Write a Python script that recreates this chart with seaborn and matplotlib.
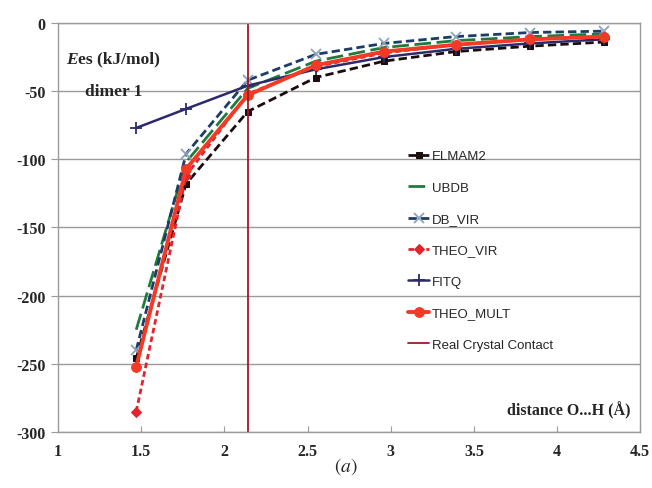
import numpy as np
import pandas as pd
import matplotlib
matplotlib.use('Agg')
import matplotlib.pyplot as plt
import seaborn as sns

# data
distance = [1.47, 1.77, 2.14, 2.55, 2.96, 3.39, 3.84, 4.28]
elmam2 = [-246, -118, -65, -40, -28, -21, -17, -14]
ubdb = [-225, -102, -48, -28, -18, -13, -10, -8]
db_vir = [-240, -96, -42, -23, -15, -10, -7, -6]
theo_vir = [-285, -112, -52, -32, -22, -16, -12, -10]
fitq = [-77, -63, -46, -34, -25, -19, -15, -12]
theo_mult = [-252, -107, -53, -31, -21, -16, -12, -10]
contact = 2.14

sns.set_style('white')
plt.rcParams['font.family'] = ['Liberation Serif', 'DejaVu Sans']
plt.rcParams['mathtext.fontset'] = 'stix'
plt.rcParams['axes.unicode_minus'] = False

# long table for seaborn
series = {'ELMAM2': elmam2, 'UBDB': ubdb, 'DB_VIR': db_vir,
          'THEO_VIR': theo_vir, 'FITQ': fitq, 'THEO_MULT': theo_mult}
df = pd.concat([pd.DataFrame({'d': distance, 'E': v, 'model': k}) for k, v in series.items()])

styles = {
    'ELMAM2': dict(color='#1c0c0e', ls=(0, (3, 1.5)), lw=2, marker='s', ms=5, mfc='#1c0c0e', mec='#1c0c0e'),
    'UBDB': dict(color='#1f7a3c', ls=(0, (6, 2)), lw=2, marker=None),
    'DB_VIR': dict(color='#1d3c68', ls=(0, (3, 1.5)), lw=2, marker='x', ms=7, mec='#8aa3bb', mew=1.3),
    'THEO_VIR': dict(color='#e3232d', ls=(0, (2, 1.2)), lw=2, marker='D', ms=5, mfc='#e3232d', mec='#e3232d'),
    'FITQ': dict(color='#2b2b6b', ls='-', lw=1.8, marker='+', ms=9, mec='#2b2b6b', mew=1.3),
    'THEO_MULT': dict(color='#f23a26', ls='-', lw=2.8, marker='o', ms=7, mfc='#f23a26', mec='#f23a26'),
}

fig = plt.figure(figsize=(6.52, 4.89), dpi=100)
ax = fig.add_axes([0.089, 0.1145, 0.893, 0.8365])

for name, st in styles.items():
    sub = df[df['model'] == name]
    st = dict(st)
    ls = st.pop('ls')
    sns.lineplot(data=sub, x='d', y='E', ax=ax, label=name, linestyle=ls, **st)

ax.axvline(contact, color='#a3172a', lw=1.3, label='Real Crystal Contact')

ax.set_xlim(1, 4.5)
ax.set_ylim(-300, 0)
ax.set_xticks(np.arange(1, 4.51, 0.5))
ax.set_yticks(np.arange(-300, 1, 50))
ax.set_xticklabels(['1', '1.5', '2', '2.5', '3', '3.5', '4', '4.5'])
ax.set_xlabel('')
ax.set_ylabel('')
ax.yaxis.grid(True, color='#9a9a9a', lw=1)
ax.xaxis.grid(False)
for s in ax.spines.values():
    s.set_color('#9a9a9a')
    s.set_linewidth(1)
ax.tick_params(axis='x', direction='in', length=4, color='#9a9a9a', pad=8,
               labelsize=11.5)
ax.tick_params(axis='y', direction='out', length=5, color='#9a9a9a', pad=4,
               labelsize=11.5)
ax.tick_params(left=True, bottom=True)
for lab in ax.get_xticklabels() + ax.get_yticklabels():
    lab.set_fontweight('bold')

t = ax.text(1.05, -29, 'E', style='italic', weight='bold', fontsize=12.5)
ax.annotate('es (kJ/mol)', xy=(1, 0), xycoords=t, va='bottom', weight='bold', fontsize=12.5)
ax.text(1.16, -53, 'dimer 1', weight='bold', fontsize=12.5)
ax.text(4.44, -287, 'distance O...H (Å)', weight='bold', fontsize=11.5, ha='right')

leg = ax.legend(loc='upper left', bbox_to_anchor=(0.59, 0.705), frameon=False,
                prop={'family': 'Liberation Sans', 'size': 9.5}, handlelength=1.6,
                handletextpad=0.2, labelspacing=1.45, borderpad=0)

fig.text(0.53, 0.035, '$(a)$', ha='center', fontsize=14)

fig.savefig('out.png', dpi=100)
